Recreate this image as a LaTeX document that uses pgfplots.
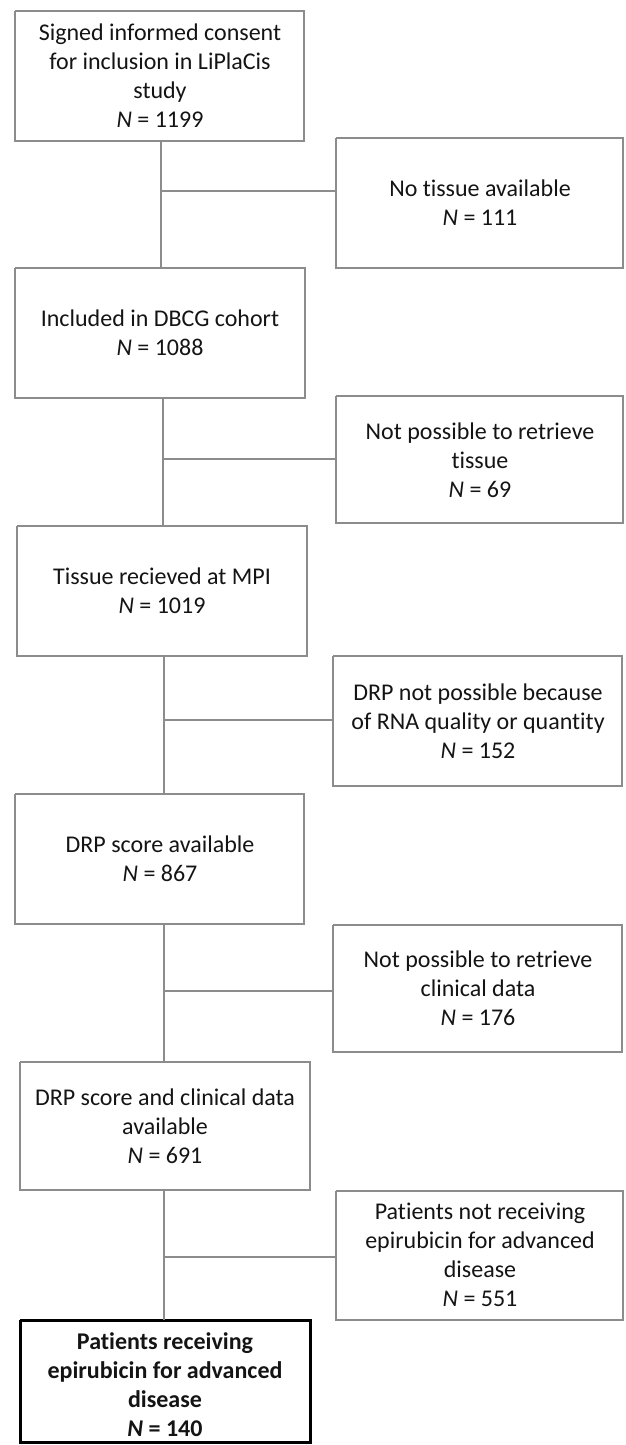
\documentclass[border=0pt]{standalone}
\usepackage{fontspec}
\setmainfont{Carlito}[Ligatures=NoCommon]
\usepackage{pgfplots}
\pgfplotsset{compat=1.18}
\definecolor{boxgray}{RGB}{140,140,140}
\definecolor{ink}{RGB}{20,20,20}
\tikzset{txt/.style={font=\fontsize{24bp}{29bp}\selectfont, align=center, text=ink, inner sep=0pt}}
\begin{document}
\begin{tikzpicture}
\begin{axis}[
    width=625bp, height=1445bp, scale only axis,
    xmin=0, xmax=625, ymin=0, ymax=1445, y dir=reverse,
    hide axis, clip=false,
]
\path (axis cs:0,0) (axis cs:625,1445);

% main column boxes
\addplot[boxgray, line width=2bp, mark=none] coordinates {(15,11) (304,11) (304,141) (15,141) (15,11)};
\addplot[boxgray, line width=2bp, mark=none] coordinates {(15,268) (305,268) (305,398) (15,398) (15,268)};
\addplot[boxgray, line width=2bp, mark=none] coordinates {(17,526) (307,526) (307,656) (17,656) (17,526)};
\addplot[boxgray, line width=2bp, mark=none] coordinates {(15,794) (304,794) (304,924) (15,924) (15,794)};
\addplot[boxgray, line width=2bp, mark=none] coordinates {(20,1062) (310,1062) (310,1190) (20,1190) (20,1062)};
\addplot[black, line width=3bp, mark=none] coordinates {(20,1320) (310,1320) (310,1442) (20,1442) (20,1320)};

% exclusion boxes
\addplot[boxgray, line width=2bp, mark=none] coordinates {(336,138) (623,138) (623,268) (336,268) (336,138)};
\addplot[boxgray, line width=2bp, mark=none] coordinates {(336,396) (623,396) (623,523) (336,523) (336,396)};
\addplot[boxgray, line width=2bp, mark=none] coordinates {(333,656) (622,656) (622,786) (333,786) (333,656)};
\addplot[boxgray, line width=2bp, mark=none] coordinates {(333,925) (622,925) (622,1052) (333,1052) (333,925)};
\addplot[boxgray, line width=2bp, mark=none] coordinates {(336,1191) (623,1191) (623,1320) (336,1320) (336,1191)};

% connectors
\addplot[boxgray, line width=2bp, mark=none] coordinates {(161,141) (161,268)};
\addplot[boxgray, line width=2bp, mark=none] coordinates {(161,191) (336,191)};
\addplot[boxgray, line width=2bp, mark=none] coordinates {(163,398) (163,526)};
\addplot[boxgray, line width=2bp, mark=none] coordinates {(163,459) (336,459)};
\addplot[boxgray, line width=2bp, mark=none] coordinates {(164,656) (164,794)};
\addplot[boxgray, line width=2bp, mark=none] coordinates {(164,720) (333,720)};
\addplot[boxgray, line width=2bp, mark=none] coordinates {(164,924) (164,1062)};
\addplot[boxgray, line width=2bp, mark=none] coordinates {(164,991) (333,991)};
\addplot[boxgray, line width=2bp, mark=none] coordinates {(164,1190) (164,1320)};
\addplot[boxgray, line width=2bp, mark=none] coordinates {(164,1257) (336,1257)};

% texts
\node[txt] at (axis cs:160,76) {Signed informed consent\\for inclusion in LiPlaCis\\study\\\textit{N} = 1199};
\node[txt] at (axis cs:480,203) {No tissue available\\\textit{N} = 111};
\node[txt] at (axis cs:160,333) {Included in DBCG cohort\\\textit{N} = 1088};
\node[txt] at (axis cs:480,460) {Not possible to retrieve\\tissue\\\textit{N} = 69};
\node[txt] at (axis cs:162,591) {Tissue recieved at MPI\\\textit{N} = 1019};
\node[txt] at (axis cs:478,721) {DRP not possible because\\of RNA quality or quantity\\\textit{N} = 152};
\node[txt] at (axis cs:160,859) {DRP score available\\\textit{N} = 867};
\node[txt] at (axis cs:478,988) {Not possible to retrieve\\clinical data\\\textit{N} = 176};
\node[txt] at (axis cs:165,1126) {DRP score and clinical data\\available\\\textit{N} = 691};
\node[txt] at (axis cs:480,1255) {Patients not receiving\\epirubicin for advanced\\disease\\\textit{N} = 551};
\node[txt, font=\fontsize{24bp}{29bp}\selectfont\bfseries] at (axis cs:165,1385) {Patients receiving\\epirubicin for advanced\\disease\\\textit{N} = 140};
\end{axis}
\end{tikzpicture}
\end{document}
